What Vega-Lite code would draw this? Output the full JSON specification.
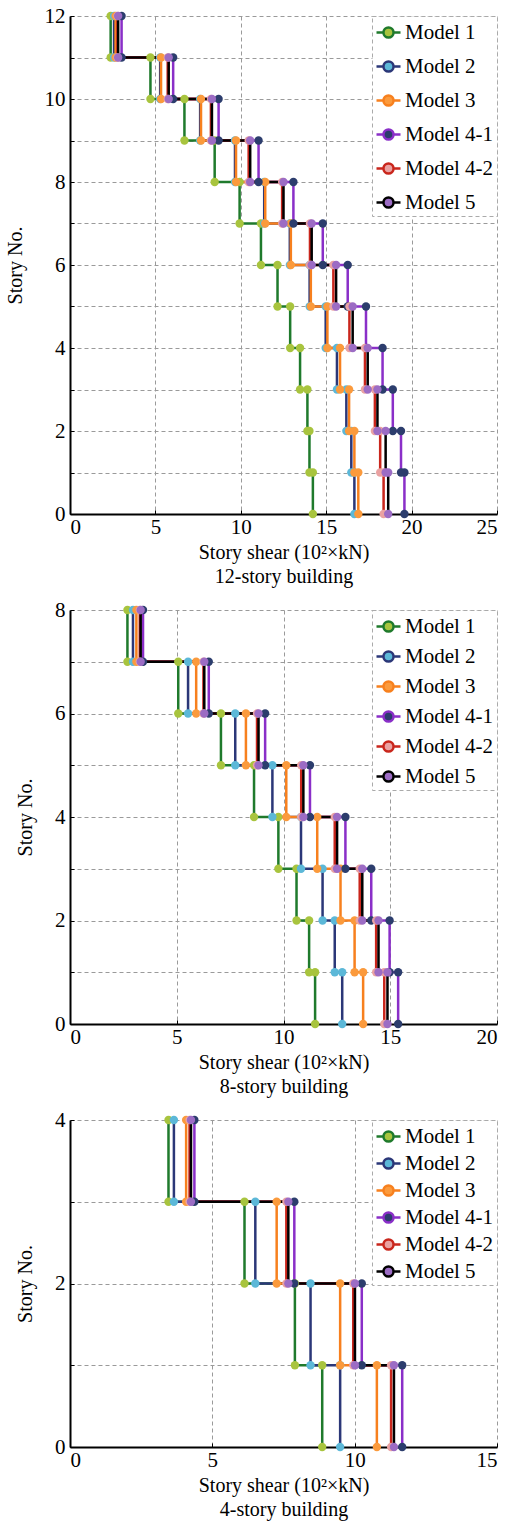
{
  "$schema": "https://vega.github.io/schema/vega-lite/v6.json",
  "background": "white",
  "padding": 5,
  "spacing": 13,
  "datasets": {
    "shear": [
      {"b":12,"m":"Model 1","s":1,"lo":0,"hi":1,"v":14.22},{"b":12,"m":"Model 1","s":2,"lo":1,"hi":2,"v":14.02},{"b":12,"m":"Model 1","s":3,"lo":2,"hi":3,"v":13.90},{"b":12,"m":"Model 1","s":4,"lo":3,"hi":4,"v":13.47},{"b":12,"m":"Model 1","s":5,"lo":4,"hi":5,"v":12.89},{"b":12,"m":"Model 1","s":6,"lo":5,"hi":6,"v":12.15},{"b":12,"m":"Model 1","s":7,"lo":6,"hi":7,"v":11.18},{"b":12,"m":"Model 1","s":8,"lo":7,"hi":8,"v":9.93},{"b":12,"m":"Model 1","s":9,"lo":8,"hi":9,"v":8.47},{"b":12,"m":"Model 1","s":10,"lo":9,"hi":10,"v":6.70},{"b":12,"m":"Model 1","s":11,"lo":10,"hi":11,"v":4.71},{"b":12,"m":"Model 1","s":12,"lo":11,"hi":12,"v":2.38},
      {"b":12,"m":"Model 2","s":1,"lo":0,"hi":1,"v":16.65},{"b":12,"m":"Model 2","s":2,"lo":1,"hi":2,"v":16.47},{"b":12,"m":"Model 2","s":3,"lo":2,"hi":3,"v":16.18},{"b":12,"m":"Model 2","s":4,"lo":3,"hi":4,"v":15.63},{"b":12,"m":"Model 2","s":5,"lo":4,"hi":5,"v":14.97},{"b":12,"m":"Model 2","s":6,"lo":5,"hi":6,"v":14.03},{"b":12,"m":"Model 2","s":7,"lo":6,"hi":7,"v":12.87},{"b":12,"m":"Model 2","s":8,"lo":7,"hi":8,"v":11.37},{"b":12,"m":"Model 2","s":9,"lo":8,"hi":9,"v":9.66},{"b":12,"m":"Model 2","s":10,"lo":9,"hi":10,"v":7.62},{"b":12,"m":"Model 2","s":11,"lo":10,"hi":11,"v":5.28},{"b":12,"m":"Model 2","s":12,"lo":11,"hi":12,"v":2.58},
      {"b":12,"m":"Model 3","s":1,"lo":0,"hi":1,"v":16.88},{"b":12,"m":"Model 3","s":2,"lo":1,"hi":2,"v":16.65},{"b":12,"m":"Model 3","s":3,"lo":2,"hi":3,"v":16.34},{"b":12,"m":"Model 3","s":4,"lo":3,"hi":4,"v":15.81},{"b":12,"m":"Model 3","s":5,"lo":4,"hi":5,"v":15.07},{"b":12,"m":"Model 3","s":6,"lo":5,"hi":6,"v":14.10},{"b":12,"m":"Model 3","s":7,"lo":6,"hi":7,"v":12.93},{"b":12,"m":"Model 3","s":8,"lo":7,"hi":8,"v":11.43},{"b":12,"m":"Model 3","s":9,"lo":8,"hi":9,"v":9.72},{"b":12,"m":"Model 3","s":10,"lo":9,"hi":10,"v":7.67},{"b":12,"m":"Model 3","s":11,"lo":10,"hi":11,"v":5.33},{"b":12,"m":"Model 3","s":12,"lo":11,"hi":12,"v":2.67},
      {"b":12,"m":"Model 4-1","s":1,"lo":0,"hi":1,"v":19.58},{"b":12,"m":"Model 4-1","s":2,"lo":1,"hi":2,"v":19.38},{"b":12,"m":"Model 4-1","s":3,"lo":2,"hi":3,"v":18.90},{"b":12,"m":"Model 4-1","s":4,"lo":3,"hi":4,"v":18.30},{"b":12,"m":"Model 4-1","s":5,"lo":4,"hi":5,"v":17.33},{"b":12,"m":"Model 4-1","s":6,"lo":5,"hi":6,"v":16.26},{"b":12,"m":"Model 4-1","s":7,"lo":6,"hi":7,"v":14.80},{"b":12,"m":"Model 4-1","s":8,"lo":7,"hi":8,"v":13.08},{"b":12,"m":"Model 4-1","s":9,"lo":8,"hi":9,"v":11.04},{"b":12,"m":"Model 4-1","s":10,"lo":9,"hi":10,"v":8.70},{"b":12,"m":"Model 4-1","s":11,"lo":10,"hi":11,"v":6.04},{"b":12,"m":"Model 4-1","s":12,"lo":11,"hi":12,"v":3.02},
      {"b":12,"m":"Model 4-2","s":1,"lo":0,"hi":1,"v":18.36},{"b":12,"m":"Model 4-2","s":2,"lo":1,"hi":2,"v":18.16},{"b":12,"m":"Model 4-2","s":3,"lo":2,"hi":3,"v":17.85},{"b":12,"m":"Model 4-2","s":4,"lo":3,"hi":4,"v":17.27},{"b":12,"m":"Model 4-2","s":5,"lo":4,"hi":5,"v":16.36},{"b":12,"m":"Model 4-2","s":6,"lo":5,"hi":6,"v":15.42},{"b":12,"m":"Model 4-2","s":7,"lo":6,"hi":7,"v":14.05},{"b":12,"m":"Model 4-2","s":8,"lo":7,"hi":8,"v":12.42},{"b":12,"m":"Model 4-2","s":9,"lo":8,"hi":9,"v":10.46},{"b":12,"m":"Model 4-2","s":10,"lo":9,"hi":10,"v":8.25},{"b":12,"m":"Model 4-2","s":11,"lo":10,"hi":11,"v":5.72},{"b":12,"m":"Model 4-2","s":12,"lo":11,"hi":12,"v":2.78},
      {"b":12,"m":"Model 5","s":1,"lo":0,"hi":1,"v":18.63},{"b":12,"m":"Model 5","s":2,"lo":1,"hi":2,"v":18.48},{"b":12,"m":"Model 5","s":3,"lo":2,"hi":3,"v":18.00},{"b":12,"m":"Model 5","s":4,"lo":3,"hi":4,"v":17.43},{"b":12,"m":"Model 5","s":5,"lo":4,"hi":5,"v":16.55},{"b":12,"m":"Model 5","s":6,"lo":5,"hi":6,"v":15.58},{"b":12,"m":"Model 5","s":7,"lo":6,"hi":7,"v":14.15},{"b":12,"m":"Model 5","s":8,"lo":7,"hi":8,"v":12.50},{"b":12,"m":"Model 5","s":9,"lo":8,"hi":9,"v":10.55},{"b":12,"m":"Model 5","s":10,"lo":9,"hi":10,"v":8.31},{"b":12,"m":"Model 5","s":11,"lo":10,"hi":11,"v":5.78},{"b":12,"m":"Model 5","s":12,"lo":11,"hi":12,"v":2.82},

      {"b":8,"m":"Model 1","s":1,"lo":0,"hi":1,"v":11.48},{"b":8,"m":"Model 1","s":2,"lo":1,"hi":2,"v":11.20},{"b":8,"m":"Model 1","s":3,"lo":2,"hi":3,"v":10.61},{"b":8,"m":"Model 1","s":4,"lo":3,"hi":4,"v":9.76},{"b":8,"m":"Model 1","s":5,"lo":4,"hi":5,"v":8.62},{"b":8,"m":"Model 1","s":6,"lo":5,"hi":6,"v":7.07},{"b":8,"m":"Model 1","s":7,"lo":6,"hi":7,"v":5.07},{"b":8,"m":"Model 1","s":8,"lo":7,"hi":8,"v":2.69},
      {"b":8,"m":"Model 2","s":1,"lo":0,"hi":1,"v":12.75},{"b":8,"m":"Model 2","s":2,"lo":1,"hi":2,"v":12.40},{"b":8,"m":"Model 2","s":3,"lo":2,"hi":3,"v":11.83},{"b":8,"m":"Model 2","s":4,"lo":3,"hi":4,"v":10.82},{"b":8,"m":"Model 2","s":5,"lo":4,"hi":5,"v":9.48},{"b":8,"m":"Model 2","s":6,"lo":5,"hi":6,"v":7.74},{"b":8,"m":"Model 2","s":7,"lo":6,"hi":7,"v":5.53},{"b":8,"m":"Model 2","s":8,"lo":7,"hi":8,"v":2.95},
      {"b":8,"m":"Model 3","s":1,"lo":0,"hi":1,"v":13.73},{"b":8,"m":"Model 3","s":2,"lo":1,"hi":2,"v":13.33},{"b":8,"m":"Model 3","s":3,"lo":2,"hi":3,"v":12.67},{"b":8,"m":"Model 3","s":4,"lo":3,"hi":4,"v":11.58},{"b":8,"m":"Model 3","s":5,"lo":4,"hi":5,"v":10.13},{"b":8,"m":"Model 3","s":6,"lo":5,"hi":6,"v":8.24},{"b":8,"m":"Model 3","s":7,"lo":6,"hi":7,"v":5.91},{"b":8,"m":"Model 3","s":8,"lo":7,"hi":8,"v":3.11},
      {"b":8,"m":"Model 4-1","s":1,"lo":0,"hi":1,"v":15.37},{"b":8,"m":"Model 4-1","s":2,"lo":1,"hi":2,"v":14.97},{"b":8,"m":"Model 4-1","s":3,"lo":2,"hi":3,"v":14.11},{"b":8,"m":"Model 4-1","s":4,"lo":3,"hi":4,"v":12.90},{"b":8,"m":"Model 4-1","s":5,"lo":4,"hi":5,"v":11.24},{"b":8,"m":"Model 4-1","s":6,"lo":5,"hi":6,"v":9.14},{"b":8,"m":"Model 4-1","s":7,"lo":6,"hi":7,"v":6.50},{"b":8,"m":"Model 4-1","s":8,"lo":7,"hi":8,"v":3.42},
      {"b":8,"m":"Model 4-2","s":1,"lo":0,"hi":1,"v":14.72},{"b":8,"m":"Model 4-2","s":2,"lo":1,"hi":2,"v":14.34},{"b":8,"m":"Model 4-2","s":3,"lo":2,"hi":3,"v":13.57},{"b":8,"m":"Model 4-2","s":4,"lo":3,"hi":4,"v":12.40},{"b":8,"m":"Model 4-2","s":5,"lo":4,"hi":5,"v":10.83},{"b":8,"m":"Model 4-2","s":6,"lo":5,"hi":6,"v":8.76},{"b":8,"m":"Model 4-2","s":7,"lo":6,"hi":7,"v":6.25},{"b":8,"m":"Model 4-2","s":8,"lo":7,"hi":8,"v":3.27},
      {"b":8,"m":"Model 5","s":1,"lo":0,"hi":1,"v":14.87},{"b":8,"m":"Model 5","s":2,"lo":1,"hi":2,"v":14.45},{"b":8,"m":"Model 5","s":3,"lo":2,"hi":3,"v":13.69},{"b":8,"m":"Model 5","s":4,"lo":3,"hi":4,"v":12.51},{"b":8,"m":"Model 5","s":5,"lo":4,"hi":5,"v":10.93},{"b":8,"m":"Model 5","s":6,"lo":5,"hi":6,"v":8.83},{"b":8,"m":"Model 5","s":7,"lo":6,"hi":7,"v":6.29},{"b":8,"m":"Model 5","s":8,"lo":7,"hi":8,"v":3.31},

      {"b":4,"m":"Model 1","s":1,"lo":0,"hi":1,"v":8.86},{"b":4,"m":"Model 1","s":2,"lo":1,"hi":2,"v":7.90},{"b":4,"m":"Model 1","s":3,"lo":2,"hi":3,"v":6.13},{"b":4,"m":"Model 1","s":4,"lo":3,"hi":4,"v":3.46},
      {"b":4,"m":"Model 2","s":1,"lo":0,"hi":1,"v":9.49},{"b":4,"m":"Model 2","s":2,"lo":1,"hi":2,"v":8.45},{"b":4,"m":"Model 2","s":3,"lo":2,"hi":3,"v":6.51},{"b":4,"m":"Model 2","s":4,"lo":3,"hi":4,"v":3.65},
      {"b":4,"m":"Model 3","s":1,"lo":0,"hi":1,"v":10.78},{"b":4,"m":"Model 3","s":2,"lo":1,"hi":2,"v":9.49},{"b":4,"m":"Model 3","s":3,"lo":2,"hi":3,"v":7.26},{"b":4,"m":"Model 3","s":4,"lo":3,"hi":4,"v":4.08},
      {"b":4,"m":"Model 4-1","s":1,"lo":0,"hi":1,"v":11.67},{"b":4,"m":"Model 4-1","s":2,"lo":1,"hi":2,"v":10.25},{"b":4,"m":"Model 4-1","s":3,"lo":2,"hi":3,"v":7.88},{"b":4,"m":"Model 4-1","s":4,"lo":3,"hi":4,"v":4.37},
      {"b":4,"m":"Model 4-2","s":1,"lo":0,"hi":1,"v":11.28},{"b":4,"m":"Model 4-2","s":2,"lo":1,"hi":2,"v":9.95},{"b":4,"m":"Model 4-2","s":3,"lo":2,"hi":3,"v":7.60},{"b":4,"m":"Model 4-2","s":4,"lo":3,"hi":4,"v":4.20},
      {"b":4,"m":"Model 5","s":1,"lo":0,"hi":1,"v":11.38},{"b":4,"m":"Model 5","s":2,"lo":1,"hi":2,"v":10.01},{"b":4,"m":"Model 5","s":3,"lo":2,"hi":3,"v":7.67},{"b":4,"m":"Model 5","s":4,"lo":3,"hi":4,"v":4.25}
    ]
  },
  "data": {"name": "shear"},
  "resolve": {
    "scale": {"stroke": "independent", "fill": "independent", "strokeWidth": "independent"},
    "legend": {"stroke": "independent", "fill": "independent"}
  },
  "vconcat": [
    {
      "width": 427,
      "height": 498,
      "transform": [{"filter": "datum.b == 12"}, {"fold": ["hi", "lo"], "as": ["end", "y"]}],
      "encoding": {
        "x": {"field": "v", "type": "quantitative", "scale": {"domain": [0, 25], "nice": false},
              "axis": {"values": [0, 5, 10, 15, 20, 25], "labelFont": "Liberation Serif", "titleFont": "Liberation Serif", "title": ["Story shear (10²×kN)", "12-story building"]}},
        "y": {"field": "y", "type": "quantitative", "scale": {"domain": [0, 12], "nice": false},
              "axis": {"values": [0,1,2,3,4,5,6,7,8,9,10,11,12], "labelFont": "Liberation Serif", "titleFont": "Liberation Serif", "labelExpr": "datum.value % 2 === 0 ? datum.label : ''", "title": "Story No."}}
      },
      "layer": [
        {
          "mark": {"type": "line"},
          "encoding": {
            "stroke": {"field": "m", "type": "nominal",
              "scale": {"domain": ["Model 1","Model 2","Model 3","Model 4-1","Model 4-2","Model 5"], "range": ["#1f7a2c","#2b3778","#f7801e","#8a2fc8","#c9261c","#000000"]},
              "legend": {"title": null, "rowPadding": 10, "symbolType": "M-1,0H-0.42M0.42,0H1M0.42,0A0.42,0.42,0,1,1,-0.42,0A0.42,0.42,0,1,1,0.42,0Z"}},
            "strokeWidth": {"field": "m", "type": "nominal", "legend": null,
              "scale": {"domain": ["Model 1","Model 2","Model 3","Model 4-1","Model 4-2","Model 5"], "range": [2.5, 2.5, 2.8, 2.5, 3, 3.5]}},
            "order": [{"field": "y", "sort": "descending"}, {"field": "s", "sort": "descending"}]
          }
        },
        {
          "mark": {"type": "circle", "size": 70, "opacity": 1},
          "encoding": {
            "fill": {"field": "m", "type": "nominal",
              "scale": {"domain": ["Model 1","Model 2","Model 3","Model 4-1","Model 4-2","Model 5"], "range": ["#a8c43e","#5cb8d8","#fb9a3c","#2c3d6d","#eaa2a2","#9c6cc4"]},
              "legend": {"title": null, "rowPadding": 10, "symbolType": "M-1,0H-0.42M0.42,0H1M0.42,0A0.42,0.42,0,1,1,-0.42,0A0.42,0.42,0,1,1,0.42,0Z"}}
          }
        }
      ]
    },
    {
      "width": 427,
      "height": 414,
      "transform": [{"filter": "datum.b == 8"}, {"fold": ["hi", "lo"], "as": ["end", "y"]}],
      "encoding": {
        "x": {"field": "v", "type": "quantitative", "scale": {"domain": [0, 20], "nice": false},
              "axis": {"values": [0, 5, 10, 15, 20], "labelFont": "Liberation Serif", "titleFont": "Liberation Serif", "title": ["Story shear (10²×kN)", "8-story building"]}},
        "y": {"field": "y", "type": "quantitative", "scale": {"domain": [0, 8], "nice": false},
              "axis": {"values": [0,1,2,3,4,5,6,7,8], "labelFont": "Liberation Serif", "titleFont": "Liberation Serif", "labelExpr": "datum.value % 2 === 0 ? datum.label : ''", "title": "Story No."}}
      },
      "layer": [
        {
          "mark": {"type": "line"},
          "encoding": {
            "stroke": {"field": "m", "type": "nominal",
              "scale": {"domain": ["Model 1","Model 2","Model 3","Model 4-1","Model 4-2","Model 5"], "range": ["#1f7a2c","#2b3778","#f7801e","#8a2fc8","#c9261c","#000000"]},
              "legend": {"title": null, "rowPadding": 6, "symbolType": "M-1,0H-0.42M0.42,0H1M0.42,0A0.42,0.42,0,1,1,-0.42,0A0.42,0.42,0,1,1,0.42,0Z"}},
            "strokeWidth": {"field": "m", "type": "nominal", "legend": null,
              "scale": {"domain": ["Model 1","Model 2","Model 3","Model 4-1","Model 4-2","Model 5"], "range": [2.5, 2.5, 2.8, 2.5, 3, 3.5]}},
            "order": [{"field": "y", "sort": "descending"}, {"field": "s", "sort": "descending"}]
          }
        },
        {
          "mark": {"type": "circle", "size": 70, "opacity": 1},
          "encoding": {
            "fill": {"field": "m", "type": "nominal",
              "scale": {"domain": ["Model 1","Model 2","Model 3","Model 4-1","Model 4-2","Model 5"], "range": ["#a8c43e","#5cb8d8","#fb9a3c","#2c3d6d","#eaa2a2","#9c6cc4"]},
              "legend": {"title": null, "rowPadding": 6, "symbolType": "M-1,0H-0.42M0.42,0H1M0.42,0A0.42,0.42,0,1,1,-0.42,0A0.42,0.42,0,1,1,0.42,0Z"}}
          }
        }
      ]
    },
    {
      "width": 427,
      "height": 327,
      "transform": [{"filter": "datum.b == 4"}, {"fold": ["hi", "lo"], "as": ["end", "y"]}],
      "encoding": {
        "x": {"field": "v", "type": "quantitative", "scale": {"domain": [0, 15], "nice": false},
              "axis": {"values": [0, 5, 10, 15], "labelFont": "Liberation Serif", "titleFont": "Liberation Serif", "title": ["Story shear (10²×kN)", "4-story building"]}},
        "y": {"field": "y", "type": "quantitative", "scale": {"domain": [0, 4], "nice": false},
              "axis": {"values": [0,1,2,3,4], "labelFont": "Liberation Serif", "titleFont": "Liberation Serif", "labelExpr": "datum.value % 2 === 0 ? datum.label : ''", "title": "Story No."}}
      },
      "layer": [
        {
          "mark": {"type": "line"},
          "encoding": {
            "stroke": {"field": "m", "type": "nominal",
              "scale": {"domain": ["Model 1","Model 2","Model 3","Model 4-1","Model 4-2","Model 5"], "range": ["#1f7a2c","#2b3778","#f7801e","#8a2fc8","#c9261c","#000000"]},
              "legend": {"title": null, "rowPadding": 3, "symbolType": "M-1,0H-0.42M0.42,0H1M0.42,0A0.42,0.42,0,1,1,-0.42,0A0.42,0.42,0,1,1,0.42,0Z"}},
            "strokeWidth": {"field": "m", "type": "nominal", "legend": null,
              "scale": {"domain": ["Model 1","Model 2","Model 3","Model 4-1","Model 4-2","Model 5"], "range": [2.5, 2.5, 2.8, 2.5, 3, 3.5]}},
            "order": [{"field": "y", "sort": "descending"}, {"field": "s", "sort": "descending"}]
          }
        },
        {
          "mark": {"type": "circle", "size": 70, "opacity": 1},
          "encoding": {
            "fill": {"field": "m", "type": "nominal",
              "scale": {"domain": ["Model 1","Model 2","Model 3","Model 4-1","Model 4-2","Model 5"], "range": ["#a8c43e","#5cb8d8","#fb9a3c","#2c3d6d","#eaa2a2","#9c6cc4"]},
              "legend": {"title": null, "rowPadding": 3, "symbolType": "M-1,0H-0.42M0.42,0H1M0.42,0A0.42,0.42,0,1,1,-0.42,0A0.42,0.42,0,1,1,0.42,0Z"}}
          }
        }
      ]
    }
  ],
  "config": {
    "font": "Liberation Serif",
    "view": {"stroke": null},
    "axis": {
      "labelFont": "Liberation Serif", "labelFontSize": 21, "labelColor": "#000",
      "titleFont": "Liberation Serif", "titleFontSize": 20, "titleFontWeight": "normal", "titleColor": "#000",
      "domainColor": "#000", "domainWidth": 2,
      "grid": true, "gridColor": "#9a9a9a", "gridDash": [4, 3], "gridWidth": 1,
      "ticks": true, "tickSize": -4, "tickColor": "#000", "tickWidth": 1
    },
    "axisX": {"titleLineHeight": 24, "titlePadding": 5, "labelPadding": 6},
    "axisY": {"titlePadding": 19, "labelPadding": 9},
    "legend": {
      "orient": "top-right", "offset": 0, "padding": 3,
      "fillColor": "#ffffff", "strokeColor": "#aaaaaa", "strokeDash": [4, 3],
      "labelFont": "Liberation Serif", "labelFontSize": 21, "labelColor": "#000", "labelOffset": 3,
      "symbolSize": 576, "symbolStrokeWidth": 2
    }
  }
}
